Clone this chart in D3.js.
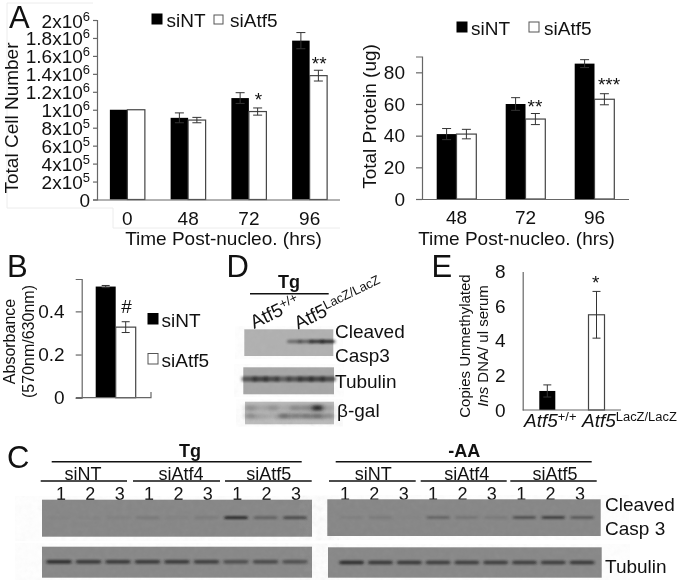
<!DOCTYPE html>
<html>
<head>
<meta charset="utf-8">
<script src="https://cdn.jsdelivr.net/npm/d3@7"></script>
<style>
  html, body { margin: 0; padding: 0; background: #fff; }
  svg { display: block; filter: blur(0.4px); }
  text { font-family: "Liberation Sans", Arial, sans-serif; fill: #111; }
</style>
</head>
<body>
<script>
const width = 677;
const height = 580;

// panel A, cell number
const cellHours = ['0', '48', '72', '96'];
const cellNT = [1000000, 910000, 1130000, 1770000];
const cellNTErr = [0, 55000, 60000, 90000];
const cellAtf5 = [1000000, 885000, 980000, 1380000];
const cellAtf5Err = [0, 30000, 40000, 60000];
const cellTicks = [0, 200000, 400000, 600000, 800000, 1000000, 1200000, 1400000, 1600000, 1800000, 2000000];

// panel A, protein
const proteinHours = ['48', '72', '96'];
const proteinNT = [41, 60, 85.5];
const proteinNTErr = [3.5, 4, 2.5];
const proteinAtf5 = [41, 50.5, 63];
const proteinAtf5Err = [3, 3.5, 3.5];
const proteinTicks = [0, 20, 40, 60, 80];

// panel B
const absGroups = ['siNT', 'siAtf5'];
const absValues = [0.515, 0.327];
const absErr = [0.005, 0.025];
const absTicks = [0, 0.2, 0.4];

// panel E
const copyGroups = ['Atf5+/+', 'Atf5LacZ/LacZ'];
const copyValues = [1.1, 5.5];
const copyErr = [0.35, 1.35];
const copyTicks = [0, 2, 4, 6, 8];

// western blots, band darkness per lane
const tgCasp = [0.03, 0.03, 0.07, 0.14, 0.05, 0.12, 1, 0.4, 0.65];
const tgTubulin = [0.85, 0.75, 0.75, 0.75, 0.75, 0.7, 0.55, 0.6, 0.55];
const aaCasp = [0.08, 0.14, 0.02, 0.38, 0.2, 0.14, 0.6, 0.8, 0.5];
const aaTubulin = [0.85, 0.75, 0.75, 0.7, 0.7, 0.7, 0.7, 0.7, 0.75];
const laneNumbers = ['1', '2', '3', '1', '2', '3', '1', '2', '3'];
const dCasp = [0, 0, 0, 0, 0.45, 0.5, 0.8, 0.85];
const dTubulin = [0.6, 0.7, 0.65, 0.5, 0.6, 0.7, 0.7, 0.65];
const dGalTop = [0.25, 0.12, 0.25, 0.1, 0.3, 0.3, 0.9, 0.15];
const dGalBottom = [0.3, 0.15, 0.1, 0.5, 0.4, 0.45, 0.5, 0.3];

const svg = d3.select('body').append('svg')
    .attr('width', width)
    .attr('height', height);

const defs = svg.append('defs');
defs.append('filter').attr('id', 'soft')
    .attr('x', '-30%').attr('y', '-150%').attr('width', '160%').attr('height', '400%')
    .append('feGaussianBlur').attr('stdDeviation', '1.4 0.9');
defs.append('filter').attr('id', 'softer')
    .attr('x', '-50%').attr('y', '-100%').attr('width', '200%').attr('height', '300%')
    .append('feGaussianBlur').attr('stdDeviation', '2.4 1.5');
const grain = defs.append('filter').attr('id', 'grain');
grain.append('feTurbulence').attr('type', 'fractalNoise').attr('baseFrequency', 0.18).attr('numOctaves', 2).attr('seed', 4);
grain.append('feColorMatrix').attr('type', 'saturate').attr('values', 0);

function label(x, y, str, size, opts) {
    opts = opts || {};
    return svg.append('text')
        .attr('x', x).attr('y', y)
        .attr('font-size', size)
        .attr('text-anchor', opts.anchor || 'start')
        .attr('font-weight', opts.weight || null)
        .attr('font-style', opts.style || null)
        .attr('transform', opts.rotate ? `rotate(${opts.rotate} ${x} ${y})` : null)
        .text(str);
}

function styleAxis(g, color) {
    g.selectAll('path, line').attr('stroke', color).attr('stroke-width', 1.2);
    g.selectAll('text').attr('fill', '#111').attr('font-family', '"Liberation Sans", Arial, sans-serif');
}

function errorBars(g, xPos, y, vals, errs, cap) {
    const rows = vals.map((v, i) => ({ v: v, e: errs[i], c: xPos(i) })).filter(d => d.e > 0);
    g.selectAll(null).data(rows).enter().append('line')
        .attr('x1', d => d.c).attr('x2', d => d.c)
        .attr('y1', d => y(d.v + d.e)).attr('y2', d => y(d.v - d.e))
        .attr('stroke', '#333').attr('stroke-width', 1);
    [1, -1].forEach(sign => {
        g.selectAll(null).data(rows).enter().append('line')
            .attr('x1', d => d.c - cap).attr('x2', d => d.c + cap)
            .attr('y1', d => y(d.v + sign * d.e)).attr('y2', d => y(d.v + sign * d.e))
            .attr('stroke', '#333').attr('stroke-width', 1);
    });
}

function legendItem(x, y, w, h, black, str, tx, ty) {
    svg.append('rect').attr('x', x).attr('y', y).attr('width', w).attr('height', h)
        .attr('fill', black ? '#000' : '#fff')
        .attr('stroke', black ? '#000' : '#555').attr('stroke-width', 1);
    label(tx, ty, str, 19);
}

// grouped black / white bars sharing one band per category
function groupedBars(x, y, cats, nt, ntErr, kd, kdErr, barW, cap) {
    const g = svg.append('g');
    g.selectAll(null).data(cats).enter().append('rect')
        .attr('x', d => x(d) + x.bandwidth() / 2 - barW)
        .attr('y', (d, i) => y(nt[i]))
        .attr('width', barW)
        .attr('height', (d, i) => y(0) - y(nt[i]))
        .attr('fill', '#000');
    g.selectAll(null).data(cats).enter().append('rect')
        .attr('x', d => x(d) + x.bandwidth() / 2)
        .attr('y', (d, i) => y(kd[i]))
        .attr('width', barW)
        .attr('height', (d, i) => y(0) - y(kd[i]))
        .attr('fill', '#fff')
        .attr('stroke', '#444')
        .attr('stroke-width', 1.2);
    errorBars(g, i => x(cats[i]) + x.bandwidth() / 2 - barW / 2, y, nt, ntErr, cap);
    errorBars(g, i => x(cats[i]) + x.bandwidth() / 2 + barW / 2, y, kd, kdErr, cap);
}

// faint frame left around the pasted panel
svg.append('path')
    .attr('d', 'M7,3H93M7,3V208H113V228H340')
    .attr('fill', 'none').attr('stroke', '#ececec').attr('stroke-width', 1);

// ---- panel A left
const xCell = d3.scaleBand().domain(cellHours).range([97, 340]);
const yCell = d3.scaleLinear().domain([0, 2000000]).range([199.5, 20]);

groupedBars(xCell, yCell, cellHours, cellNT, cellNTErr, cellAtf5, cellAtf5Err, 17.5, 4.5);

const cellAxisY = svg.append('g').attr('transform', 'translate(97,0)')
    .call(d3.axisLeft(yCell).tickValues(cellTicks).tickSize(4).tickFormat(''));
styleAxis(cellAxisY, '#666');
cellAxisY.selectAll('.tick').each(function (v) {
    const t = d3.select(this).append('text')
        .attr('x', -7).attr('y', 7).attr('text-anchor', 'end').attr('font-size', 19).attr('fill', '#111');
    if (v === 0) { t.text('0'); return; }
    const exp = Math.floor(Math.log10(v));
    t.append('tspan').text(`${+(v / Math.pow(10, exp)).toFixed(1)}x10`);
    t.append('tspan').attr('font-size', 13).attr('dy', -7).text(exp);
});
const cellAxisX = svg.append('g').attr('transform', 'translate(0,199.5)')
    .call(d3.axisBottom(xCell).tickSize(0).tickPadding(12));
cellAxisX.selectAll('text').attr('font-size', 19);
styleAxis(cellAxisX, '#666');
cellAxisX.select('.domain').attr('d', 'M97,0.5H340');
label(18, 118, 'Total Cell Number', 19, { anchor: 'middle', rotate: -90 });
label(223.5, 245, 'Time Post-nucleo. (hrs)', 19, { anchor: 'middle' });
legendItem(152, 14, 10, 10, true, 'siNT', 166.5, 27);
legendItem(214, 15, 9, 9, false, 'siAtf5', 230, 27);
label(xCell('72') + 40, 106, '*', 19, { anchor: 'middle' });
label(xCell('96') + 40, 70, '**', 19, { anchor: 'middle' });

// ---- panel A right
const xProtein = d3.scaleBand().domain(proteinHours).range([422, 629]);
const yProtein = d3.scaleLinear().domain([0, 90]).range([199, 56.5]);

groupedBars(xProtein, yProtein, proteinHours, proteinNT, proteinNTErr, proteinAtf5, proteinAtf5Err, 19.8, 4.5);

const proteinAxisY = svg.append('g').attr('transform', 'translate(422,0)')
    .call(d3.axisLeft(yProtein).tickValues(proteinTicks).tickSize(6).tickPadding(11));
proteinAxisY.selectAll('text').attr('font-size', 19);
styleAxis(proteinAxisY, '#666');
const proteinAxisX = svg.append('g').attr('transform', 'translate(0,199)')
    .call(d3.axisBottom(xProtein).tickSize(0).tickPadding(12));
proteinAxisX.selectAll('text').attr('font-size', 19);
styleAxis(proteinAxisX, '#666');
proteinAxisX.select('.domain').attr('d', 'M416,0.5H629');
label(375.5, 116.5, 'Total Protein (ug)', 19, { anchor: 'middle', rotate: -90 });
label(516.5, 245, 'Time Post-nucleo. (hrs)', 19, { anchor: 'middle' });
legendItem(457, 22, 10, 10, true, 'siNT', 471, 35);
legendItem(529, 22, 10, 10, false, 'siAtf5', 544, 35);
label(535, 113, '**', 19, { anchor: 'middle' });
label(609, 91, '***', 19, { anchor: 'middle' });

// ---- panel B
const xAbs = d3.scaleBand().domain(absGroups).range([95.7, 135.7]);
const yAbs = d3.scaleLinear().domain([0, 0.55]).range([397.7, 279]);
const absBars = svg.append('g');
absBars.selectAll(null).data(absGroups).enter().append('rect')
    .attr('x', d => xAbs(d))
    .attr('y', (d, i) => yAbs(absValues[i]))
    .attr('width', xAbs.bandwidth())
    .attr('height', (d, i) => yAbs(0) - yAbs(absValues[i]))
    .attr('fill', (d, i) => i === 0 ? '#000' : '#fff')
    .attr('stroke', (d, i) => i === 0 ? 'none' : '#444')
    .attr('stroke-width', 1.2);
errorBars(absBars, i => xAbs(absGroups[i]) + xAbs.bandwidth() / 2, yAbs, absValues, absErr, 4);
const absAxisY = svg.append('g').attr('transform', 'translate(81.7,0)')
    .call(d3.axisLeft(yAbs).tickValues(absTicks).tickSize(6).tickPadding(11).tickFormat(d => d === 0 ? '0' : d3.format('.1f')(d)));
absAxisY.selectAll('text').attr('font-size', 19);
styleAxis(absAxisY, '#666');
svg.append('path').attr('d', 'M76,397.7H151V392').attr('fill', 'none').attr('stroke', '#666').attr('stroke-width', 1.2);
label(15, 341.5, 'Absorbance', 16, { anchor: 'middle', rotate: -90 });
label(33.5, 341.5, '(570nm/630nm)', 16, { anchor: 'middle', rotate: -90 });
label(126.5, 312.5, '#', 19, { anchor: 'middle' });
legendItem(148, 313.5, 10, 10.5, true, 'siNT', 161.5, 326.5);
legendItem(148, 353.5, 10, 10.5, false, 'siAtf5', 161.5, 366.5);

// ---- panel E
const copyCenters = d3.scalePoint().domain(copyGroups).range([547.3, 596.5]);
const yCopy = d3.scaleLinear().domain([0, 8]).range([410, 271.5]);
const copyBars = svg.append('g');
copyBars.selectAll(null).data(copyGroups).enter().append('rect')
    .attr('x', d => copyCenters(d) - 8)
    .attr('y', (d, i) => yCopy(copyValues[i]))
    .attr('width', 16)
    .attr('height', (d, i) => yCopy(0) - yCopy(copyValues[i]))
    .attr('fill', (d, i) => i === 0 ? '#000' : '#fff')
    .attr('stroke', (d, i) => i === 0 ? 'none' : '#444')
    .attr('stroke-width', 1.2);
errorBars(copyBars, i => copyCenters(copyGroups[i]), yCopy, copyValues, copyErr, 4);
const copyAxisY = svg.append('g').attr('transform', 'translate(522.7,0)')
    .call(d3.axisLeft(yCopy).tickValues(copyTicks).tickSize(0).tickPadding(17));
copyAxisY.selectAll('text').attr('font-size', 19);
styleAxis(copyAxisY, '#666');
copyAxisY.selectAll('.tick line').remove();
svg.append('line').attr('x1', 522.7).attr('x2', 621).attr('y1', 410).attr('y2', 410).attr('stroke', '#666').attr('stroke-width', 1.2);
label(469.5, 346, 'Copies Unmethylated', 15, { anchor: 'middle', rotate: -90 });
const insLabel = label(487.5, 346, '', 15, { anchor: 'middle', rotate: -90 });
insLabel.append('tspan').attr('font-style', 'italic').text('Ins');
insLabel.append('tspan').text(' DNA/ ul serum');
label(595.7, 289, '*', 19, { anchor: 'middle' });
function atf5Label(x, y, size, sup, rotate) {
    const t = label(x, y, '', size, { rotate: rotate });
    t.append('tspan').attr('font-style', 'italic').text('Atf5');
    t.append('tspan').attr('font-size', size * 0.68).attr('dy', -size * 0.32).text(sup);
}
atf5Label(524, 427, 19, '+/+');
atf5Label(582, 427, 19, 'LacZ/LacZ');

// ---- blots
// spread is the share of a lane a band covers, above 1 the bands run together
function blot(x0, x1, y0, y1, bg, levels, laneRange, bandY, bandH, spread, blurId) {
    const lane = d3.scaleBand().domain(d3.range(levels.length)).range(laneRange);
    const g = svg.append('g');
    g.append('rect').attr('x', x0).attr('y', y0).attr('width', x1 - x0).attr('height', y1 - y0).attr('fill', bg);
    g.append('rect').attr('x', x0).attr('y', y0).attr('width', x1 - x0).attr('height', y1 - y0)
        .attr('filter', 'url(#grain)').attr('opacity', 0.07);
    g.selectAll(null).data(levels).enter().append('rect')
        .attr('x', (d, i) => lane(i) + lane.bandwidth() * (1 - spread) / 2)
        .attr('y', bandY - bandH / 2)
        .attr('width', lane.bandwidth() * spread)
        .attr('height', bandH)
        .attr('rx', 1.5)
        .attr('fill', '#1a1a1a')
        .attr('opacity', d => d)
        .attr('filter', `url(#${blurId || 'soft'})`);
}

// ---- panel D
label(289, 288, 'Tg', 18, { anchor: 'middle', weight: 'bold' });
svg.append('line').attr('x1', 250).attr('x2', 328.7).attr('y1', 293.7).attr('y2', 293.7).attr('stroke', '#111').attr('stroke-width', 1.5);
atf5Plain(254, 329, '+/+');
atf5Plain(298, 330, 'LacZ/LacZ');
function atf5Plain(x, y, sup) {
    const t = label(x, y, '', 19, { rotate: -26 });
    t.append('tspan').text('Atf5');
    t.append('tspan').attr('font-size', 13).attr('dy', -6).text(sup);
}
blot(244.3, 333.3, 329.3, 356, '#b0b0b0', dCasp, [244.3, 333.3], 341.5, 3.6, 1.3);
blot(243.3, 334, 367.3, 394.3, '#a6a6a6', dTubulin, [243.3, 334], 379, 5, 1.3);
blot(245, 334, 401.7, 424.3, '#bababa', dGalTop, [245, 334], 408, 6, 1, 'softer');
blot(245, 334, 411, 424.3, '#bababa00', dGalBottom, [245, 334], 416, 5, 1, 'softer');
label(335, 338, 'Cleaved', 19);
label(335, 361.5, 'Casp3', 19);
label(335, 387.5, 'Tubulin', 19);
label(337, 416.5, 'β-gal', 19);

// ---- panel C
function blotHeader(title, cx, line, subs) {
    label(cx, 456.5, title, 18, { anchor: 'middle', weight: 'bold' });
    svg.append('line').attr('x1', line[0]).attr('x2', line[1]).attr('y1', 461.7).attr('y2', 461.7).attr('stroke', '#111').attr('stroke-width', 1.5);
    subs.forEach(s => {
        label(s.c, 480, s.name, 18, { anchor: 'middle' });
        svg.append('line').attr('x1', s.x0).attr('x2', s.x1).attr('y1', 481).attr('y2', 481).attr('stroke', '#111').attr('stroke-width', 1.5);
    });
}
blotHeader('Tg', 190, [51.7, 301.7], [
    { name: 'siNT', c: 83, x0: 40.7, x1: 127 },
    { name: 'siAtf4', c: 181, x0: 133, x1: 220 },
    { name: 'siAtf5', c: 268.7, x0: 225, x1: 311.7 }
]);
blotHeader('-AA', 464.3, [335.7, 591.7], [
    { name: 'siNT', c: 373.3, x0: 329, x1: 415.7 },
    { name: 'siAtf4', c: 466.7, x0: 420.7, x1: 506.7 },
    { name: 'siAtf5', c: 555, x0: 510.3, x1: 596.7 }
]);
const tgLane = d3.scalePoint().domain(d3.range(9)).range([61, 296]);
const aaLane = d3.scalePoint().domain(d3.range(9)).range([345, 580]);
laneNumbers.forEach((n, i) => {
    label(tgLane(i), 499.5, n, 18, { anchor: 'middle' });
    label(aaLane(i), 499.5, n, 18, { anchor: 'middle' });
});
blot(42, 312, 499.7, 536.7, '#868686', tgCasp, [44.25, 309.75], 517.7, 2.6, 0.8);
blot(42, 312, 546.7, 577.7, '#878787', tgTubulin, [44.25, 309.75], 561.7, 3.4, 0.85);
blot(327.3, 600.7, 499.3, 536, '#868686', aaCasp, [337.2, 596.5], 517.5, 2.6, 0.8);
blot(328, 601.7, 547.3, 577.7, '#878787', aaTubulin, [337.2, 596.5], 562.5, 3.4, 0.85);
label(605, 510.5, 'Cleaved', 19);
label(605, 534.5, 'Casp 3', 19);
label(605, 572.5, 'Tubulin', 19);

// panel letters
label(9, 28, 'A', 31);
label(7, 276.5, 'B', 31);
label(7, 467.5, 'C', 31);
label(226.5, 276.5, 'D', 31);
label(431.5, 276.5, 'E', 31);
</script>
</body>
</html>
